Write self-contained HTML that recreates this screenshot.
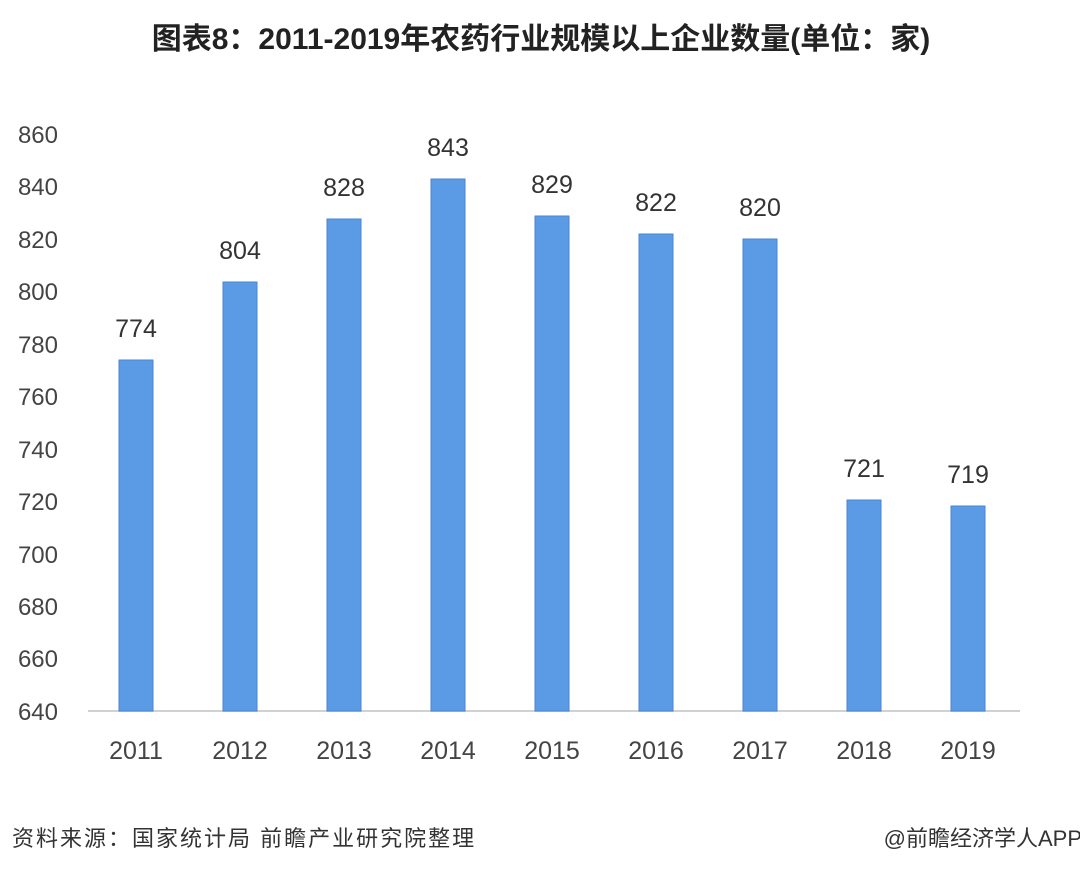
<!DOCTYPE html>
<html><head><meta charset="utf-8"><style>
body{margin:0;width:1080px;height:874px;background:#fff;overflow:hidden;font-family:"Liberation Sans","Noto Sans CJK SC",sans-serif;}
</style></head><body>
<svg width="1080" height="874" xmlns="http://www.w3.org/2000/svg" font-family="Liberation Sans, Noto Sans CJK SC, sans-serif">
<text x="541" y="49" text-anchor="middle" font-size="30" font-weight="bold" fill="#222">图表8：2011-2019年农药行业规模以上企业数量(单位：家)</text>
<g font-size="24" fill="#444" text-anchor="end">
<text x="58" y="143">860</text><text x="58" y="195">840</text><text x="58" y="248">820</text><text x="58" y="300">800</text><text x="58" y="353">780</text><text x="58" y="405">760</text><text x="58" y="458">740</text><text x="58" y="510">720</text><text x="58" y="563">700</text><text x="58" y="615">680</text><text x="58" y="667">660</text><text x="58" y="720">640</text>
</g>
<line x1="88" y1="711" x2="1020" y2="711" stroke="#d0d0d0" stroke-width="2"/>
<g fill="#5b9be6" stroke="#4a86d0" stroke-width="1">
<rect x="119" y="360" width="34" height="351"/>
<rect x="223" y="282" width="34" height="429"/>
<rect x="327" y="219" width="34" height="492"/>
<rect x="431" y="179" width="34" height="532"/>
<rect x="535" y="216" width="34" height="495"/>
<rect x="639" y="234" width="34" height="477"/>
<rect x="743" y="239" width="34" height="472"/>
<rect x="847" y="500" width="34" height="211"/>
<rect x="951" y="506" width="34" height="205"/>
</g>
<g font-size="25" fill="#333" text-anchor="middle">
<text x="136" y="337">774</text><text x="240" y="259">804</text><text x="344" y="196">828</text><text x="448" y="156">843</text><text x="552" y="193">829</text><text x="656" y="211">822</text><text x="760" y="216">820</text><text x="864" y="477">721</text><text x="968" y="483">719</text>
</g>
<g font-size="25" fill="#444" text-anchor="middle">
<text x="136" y="759">2011</text><text x="240" y="759">2012</text><text x="344" y="759">2013</text><text x="448" y="759">2014</text><text x="552" y="759">2015</text><text x="656" y="759">2016</text><text x="760" y="759">2017</text><text x="864" y="759">2018</text><text x="968" y="759">2019</text>
</g>
<text x="12" y="846" font-size="22" letter-spacing="2" fill="#333">资料来源：国家统计局 前瞻产业研究院整理</text>
<text x="1082" y="846" font-size="22" fill="#333" text-anchor="end">@前瞻经济学人APP</text>
</svg>
</body></html>
